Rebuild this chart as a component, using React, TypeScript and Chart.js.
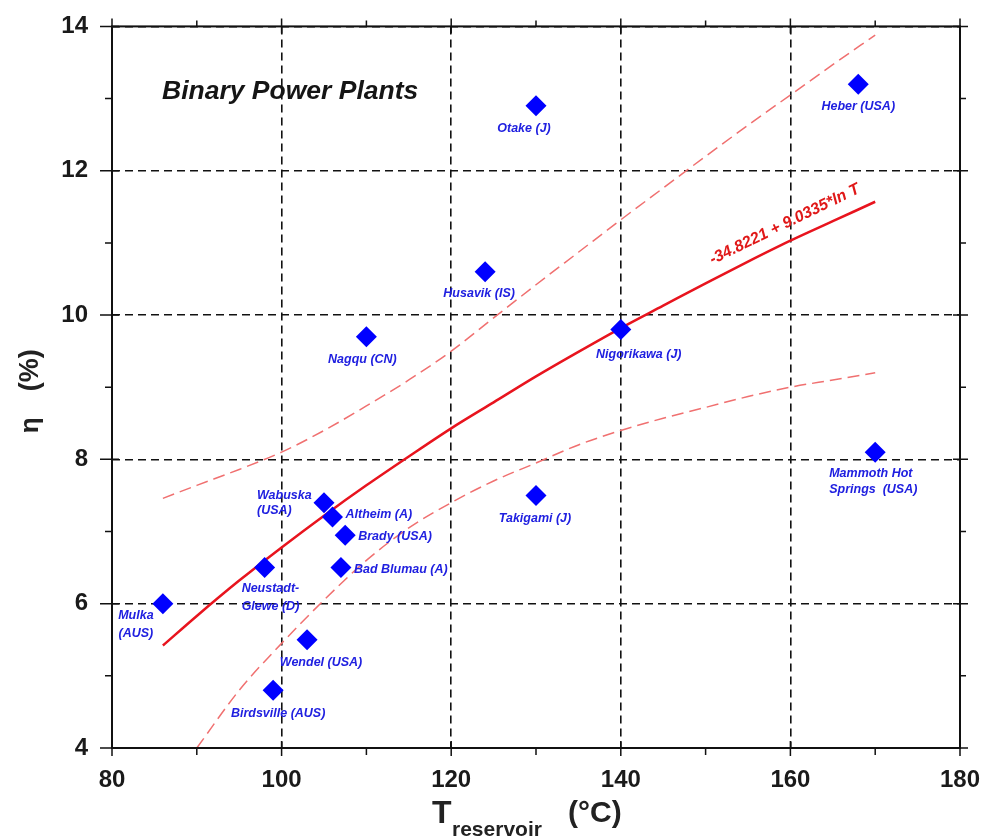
import React, { useEffect, useRef } from 'react';
import { Chart, registerables } from 'chart.js';

Chart.register(...registerables);

// ---------- data ----------
const plantNames: string[] = [
  'Mulka\n(AUS)',
  'Neustadt-\nGlewe (D)',
  'Birdsville (AUS)',
  'Wendel (USA)',
  'Wabuska\n(USA)',
  'Altheim (A)',
  'Brady (USA)',
  'Bad Blumau (A)',
  'Nagqu (CN)',
  'Husavik (IS)',
  'Otake (J)',
  'Takigami (J)',
  'Nigorikawa (J)',
  'Heber (USA)',
  'Mammoth Hot\nSprings  (USA)',
];
const plantTemps: number[] = [86, 98, 99, 103, 105, 106, 107.5, 107, 110, 124, 130, 130, 140, 168, 170];
const plantEffs: number[] = [6.0, 6.5, 4.8, 5.5, 7.4, 7.2, 6.95, 6.5, 9.7, 10.6, 12.9, 7.5, 9.8, 13.2, 8.1];

const fitTemps: number[] = [86, 90, 95, 100, 105, 110, 115, 120, 125, 130, 135, 140, 145, 150, 155, 160, 165, 170];
const fitEffs: number[] = [5.42, 5.83, 6.32, 6.78, 7.22, 7.64, 8.04, 8.43, 8.79, 9.15, 9.49, 9.82, 10.13, 10.44, 10.74, 11.03, 11.3, 11.57];

const upperTemps: number[] = [86, 90, 95, 100, 105, 110, 115, 120, 125, 130, 135, 140, 145, 150, 155, 160, 165, 170];
const upperEffs: number[] = [7.46, 7.64, 7.86, 8.1, 8.4, 8.74, 9.1, 9.5, 9.96, 10.42, 10.87, 11.32, 11.76, 12.2, 12.63, 13.05, 13.47, 13.88];

const lowerTemps: number[] = [90, 95, 100, 105, 110, 115, 120, 125, 130, 135, 140, 145, 150, 155, 160, 165, 170];
const lowerEffs: number[] = [4.0, 4.8, 5.45, 6.05, 6.6, 7.05, 7.4, 7.7, 7.95, 8.2, 8.4, 8.57, 8.72, 8.87, 9.0, 9.1, 9.2];

const xMin = 80, xMax = 180, xMajor = 20, xMinor = 10;
const yMin = 4, yMax = 14, yMajor = 2, yMinor = 1;

const chartTitle = 'Binary Power Plants';
const fitEquation = '-34.8221 + 9.0335*ln T';
const equationAnchor = { t: 150.8, eta: 10.7 };
const yTitleMain = 'η';
const yTitleUnit = '(%)';
const xTitleMain = 'T';
const xTitleSub = 'reservoir';
const xTitleUnit = '(°C)';

// label placement relative to each marker (pixels): dx, dy of first line, line gap, alignment
const labelPlacement: { dx: number; dy: number; gap: number; align: CanvasTextAlign }[] = [
  { dx: -27, dy: 12, gap: 18, align: 'center' },
  { dx: -23, dy: 21, gap: 18, align: 'left' },
  { dx: 5, dy: 23, gap: 16, align: 'center' },
  { dx: 14, dy: 23, gap: 16, align: 'center' },
  { dx: -67, dy: -7, gap: 15, align: 'left' },
  { dx: 13, dy: -3, gap: 16, align: 'left' },
  { dx: 13, dy: 1, gap: 16, align: 'left' },
  { dx: 13, dy: 2, gap: 16, align: 'left' },
  { dx: -4, dy: 23, gap: 16, align: 'center' },
  { dx: -6, dy: 22, gap: 16, align: 'center' },
  { dx: -12, dy: 23, gap: 16, align: 'center' },
  { dx: -1, dy: 23, gap: 16, align: 'center' },
  { dx: 18, dy: 25, gap: 16, align: 'center' },
  { dx: 0, dy: 22, gap: 16, align: 'center' },
  { dx: -46, dy: 21, gap: 16, align: 'left' },
];

const NARROW = "'Liberation Sans Narrow', 'Liberation Sans', Arial, sans-serif";
const SANS = "'Liberation Sans', Arial, sans-serif";

const decorPlugin = {
  id: 'decor',
  afterDraw(chart: any) {
    const { ctx, chartArea, scales } = chart;
    const xs = scales.x, ys = scales.y;
    const { left, right, top, bottom } = chartArea;
    ctx.save();

    // frame
    ctx.setLineDash([]);
    ctx.strokeStyle = '#111';
    ctx.lineWidth = 2;
    ctx.strokeRect(left, top, right - left, bottom - top);

    // ticks
    ctx.lineWidth = 1.5;
    for (let v = xMin; v <= xMax + 1e-9; v += xMinor) {
      const px = xs.getPixelForValue(v);
      const major = Math.abs(v / xMajor - Math.round(v / xMajor)) < 1e-6;
      ctx.beginPath();
      if (major) {
        ctx.moveTo(px, bottom - 7); ctx.lineTo(px, bottom + 8);
        ctx.moveTo(px, top + 7); ctx.lineTo(px, top - 8);
      } else {
        ctx.moveTo(px, bottom); ctx.lineTo(px, bottom + 7);
        ctx.moveTo(px, top); ctx.lineTo(px, top - 6);
      }
      ctx.stroke();
    }
    for (let v = yMin; v <= yMax + 1e-9; v += yMinor) {
      const py = ys.getPixelForValue(v);
      const major = Math.abs(v / yMajor - Math.round(v / yMajor)) < 1e-6;
      ctx.beginPath();
      if (major) {
        ctx.moveTo(left + 7, py); ctx.lineTo(left - 12, py);
        ctx.moveTo(right - 7, py); ctx.lineTo(right + 8, py);
      } else {
        ctx.moveTo(left, py); ctx.lineTo(left - 7, py);
        ctx.moveTo(right, py); ctx.lineTo(right + 6, py);
      }
      ctx.stroke();
    }

    // inner title
    ctx.fillStyle = '#151515';
    ctx.font = `italic bold 26.5px ${SANS}`;
    ctx.textAlign = 'left';
    ctx.textBaseline = 'alphabetic';
    ctx.fillText(chartTitle, left + 50, top + 73);

    // plant labels
    ctx.fillStyle = '#2020e0';
    ctx.font = `italic bold 12.5px ${SANS}`;
    ctx.textBaseline = 'middle';
    plantNames.forEach((name, i) => {
      const px = xs.getPixelForValue(plantTemps[i]);
      const py = ys.getPixelForValue(plantEffs[i]);
      const p = labelPlacement[i];
      ctx.textAlign = p.align;
      name.split('\n').forEach((line, k) => {
        ctx.fillText(line, px + p.dx, py + p.dy + k * p.gap);
      });
    });

    // equation
    ctx.save();
    ctx.translate(xs.getPixelForValue(equationAnchor.t), ys.getPixelForValue(equationAnchor.eta));
    ctx.rotate(-26 * Math.PI / 180);
    ctx.fillStyle = '#e01818';
    ctx.font = `italic bold 16px ${SANS}`;
    ctx.textAlign = 'left';
    ctx.textBaseline = 'alphabetic';
    ctx.fillText(fitEquation, 0, 0);
    ctx.restore();

    // y title
    ctx.save();
    ctx.translate(38, (top + bottom) / 2);
    ctx.rotate(-Math.PI / 2);
    ctx.fillStyle = '#222';
    ctx.textAlign = 'left';
    ctx.textBaseline = 'alphabetic';
    ctx.font = `bold 26px ${SANS}`;
    ctx.fillText(yTitleMain, -46, 0);
    ctx.font = `bold 27px ${NARROW}`;
    ctx.fillText(yTitleUnit, -4, 0);
    ctx.restore();

    // x title
    ctx.fillStyle = '#222';
    ctx.textAlign = 'left';
    ctx.textBaseline = 'alphabetic';
    ctx.font = `bold 32px ${NARROW}`;
    ctx.fillText(xTitleMain, 432, 823);
    ctx.font = `bold 21px ${NARROW}`;
    ctx.fillText(xTitleSub, 452, 836);
    ctx.font = `bold 30px ${NARROW}`;
    ctx.fillText(xTitleUnit, 568, 822);

    ctx.restore();
  },
};

export default function App() {
  const canvasRef = useRef<HTMLCanvasElement | null>(null);

  useEffect(() => {
    const canvas = canvasRef.current;
    if (!canvas) return;
    const isMajor = (v: number, step: number) => Math.abs(v / step - Math.round(v / step)) < 1e-6;
    const chart = new Chart(canvas, {
      type: 'scatter',
      data: {
        datasets: [
          {
            label: 'plants',
            data: plantTemps.map((t, i) => ({ x: t, y: plantEffs[i] })),
            pointStyle: 'rectRot',
            pointRadius: 10.5,
            pointHoverRadius: 10.5,
            backgroundColor: '#0000ff',
            borderColor: '#0000ff',
            borderWidth: 0,
            showLine: false,
          },
          {
            label: 'fit',
            data: fitTemps.map((t, i) => ({ x: t, y: fitEffs[i] })),
            showLine: true,
            borderColor: '#e8141e',
            borderWidth: 2.5,
            pointRadius: 0,
            cubicInterpolationMode: 'monotone',
          },
          {
            label: 'upper',
            data: upperTemps.map((t, i) => ({ x: t, y: upperEffs[i] })),
            showLine: true,
            borderColor: '#f07070',
            borderWidth: 1.5,
            borderDash: [12, 6],
            pointRadius: 0,
            cubicInterpolationMode: 'monotone',
          },
          {
            label: 'lower',
            data: lowerTemps.map((t, i) => ({ x: t, y: lowerEffs[i] })),
            showLine: true,
            borderColor: '#f07070',
            borderWidth: 1.5,
            borderDash: [12, 6],
            pointRadius: 0,
            cubicInterpolationMode: 'monotone',
          },
        ],
      },
      options: {
        animation: false,
        responsive: false,
        devicePixelRatio: 1,
        layout: { padding: { top: 25, right: 30, left: 0, bottom: 0 } },
        plugins: { legend: { display: false }, tooltip: { enabled: false }, title: { display: false } },
        events: [],
        scales: {
          x: {
            type: 'linear',
            min: xMin,
            max: xMax,
            afterFit: (s: any) => { s.height = 89; },
            ticks: {
              stepSize: xMinor,
              autoSkip: false,
              maxRotation: 0,
              padding: 8,
              color: '#1a1a1a',
              font: { family: NARROW, size: 24, weight: 'bold' },
              callback: (v: any) => (isMajor(Number(v), xMajor) ? String(v) : ''),
            },
            grid: {
              color: (c: any) => (c.tick && isMajor(c.tick.value, xMajor) ? '#111' : 'rgba(0,0,0,0)'),
              lineWidth: 1.6,
              tickColor: 'rgba(0,0,0,0)',
              tickLength: 10,
            },
            border: { display: false, dash: [8, 5] },
          },
          y: {
            type: 'linear',
            min: yMin,
            max: yMax,
            afterFit: (s: any) => { s.width = 112; },
            ticks: {
              stepSize: yMinor,
              autoSkip: false,
              padding: 12,
              color: '#1a1a1a',
              font: { family: NARROW, size: 24, weight: 'bold' },
              callback: (v: any) => (isMajor(Number(v), yMajor) ? String(v) : ''),
            },
            grid: {
              color: (c: any) => (c.tick && isMajor(c.tick.value, yMajor) ? '#111' : 'rgba(0,0,0,0)'),
              lineWidth: 1.6,
              tickColor: 'rgba(0,0,0,0)',
              tickLength: 12,
            },
            border: { display: false, dash: [8, 5] },
          },
        },
      } as any,
      plugins: [decorPlugin],
    });
    return () => chart.destroy();
  }, []);

  return (
    <div style={{ position: 'absolute', left: 0, top: 0, width: 990, height: 837, background: '#fff' }}>
      <canvas ref={canvasRef} width={990} height={837} style={{ width: 990, height: 837, display: 'block' }} />
    </div>
  );
}
